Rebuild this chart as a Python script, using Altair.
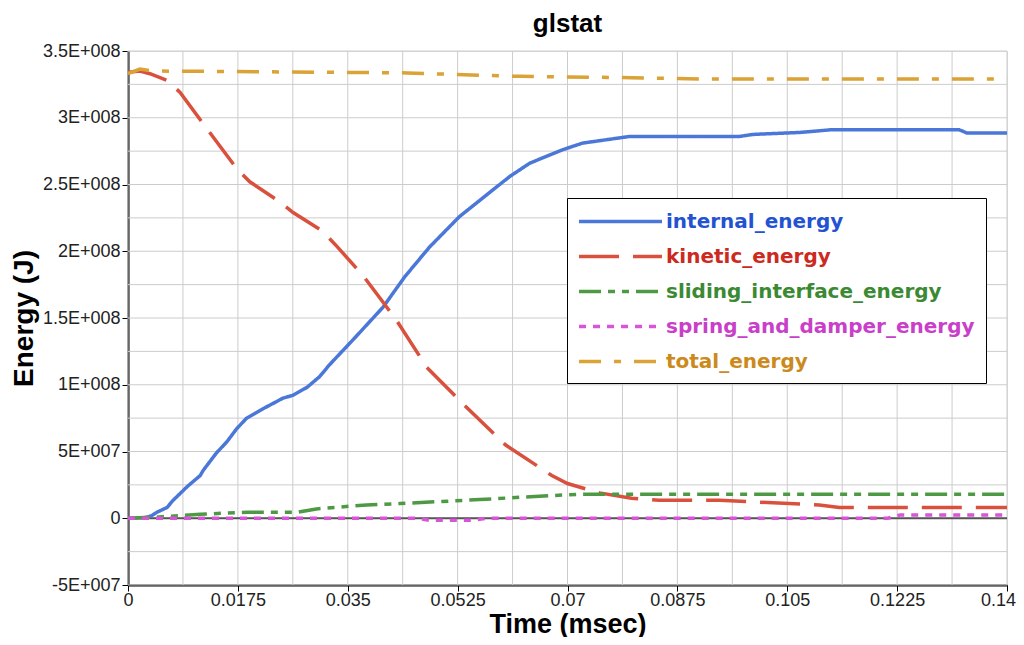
import json
import altair as alt
import pandas as pd

# ---------------- data ----------------
series_names = ["internal_energy", "kinetic_energy", "sliding_interface_energy",
                "spring_and_damper_energy", "total_energy"]
line_colors = ["#4a77d8", "#d9503c", "#4e9a44", "#d855d8", "#dba235"]
label_colors = ["#2352d2", "#cc2a1f", "#3b8a33", "#c93fc9", "#cc8a1c"]
dash_patterns = [[1, 0], [40, 14], [22, 7, 7, 7, 7, 7], [7, 7], [22, 13, 7, 13]]

internal_t = [0, 0.0028, 0.0038, 0.0046, 0.0062, 0.0072, 0.0095, 0.0115, 0.012, 0.0141,
              0.0157, 0.0173, 0.0189, 0.0215, 0.0247, 0.0262, 0.0285, 0.0305, 0.0321,
              0.0361, 0.0406, 0.0441, 0.048, 0.0528, 0.056, 0.0608, 0.064, 0.0692, 0.0724,
              0.0799, 0.0974, 0.0995, 0.107, 0.112, 0.1324, 0.1336, 0.14]
internal_e = [0, 0.005e8, 0.02e8, 0.045e8, 0.08e8, 0.135e8, 0.24e8, 0.32e8, 0.36e8, 0.49e8,
              0.57e8, 0.67e8, 0.75e8, 0.82e8, 0.90e8, 0.92e8, 0.98e8, 1.06e8, 1.15e8,
              1.35e8, 1.58e8, 1.81e8, 2.03e8, 2.26e8, 2.38e8, 2.56e8, 2.66e8, 2.76e8, 2.81e8,
              2.86e8, 2.86e8, 2.875e8, 2.89e8, 2.91e8, 2.91e8, 2.886e8, 2.886e8]

kinetic_t = [0, 0.0019, 0.0035, 0.0062, 0.0083, 0.0119, 0.0173, 0.0194, 0.0242, 0.0263,
             0.031, 0.0332, 0.0374, 0.0406, 0.0428, 0.0476, 0.0535, 0.0601, 0.0675, 0.07,
             0.0751, 0.0802, 0.0846, 0.0942, 0.1005, 0.1101, 0.1133, 0.14]
kinetic_e = [3.34e8, 3.35e8, 3.33e8, 3.28e8, 3.19e8, 2.96e8, 2.62e8, 2.52e8, 2.37e8, 2.29e8,
             2.15e8, 2.04e8, 1.82e8, 1.62e8, 1.48e8, 1.13e8, 0.85e8, 0.55e8, 0.32e8, 0.26e8,
             0.19e8, 0.15e8, 0.135e8, 0.135e8, 0.12e8, 0.10e8, 0.08e8, 0.08e8]

sliding_t = [0, 0.005, 0.0115, 0.019, 0.027, 0.03, 0.038, 0.0433, 0.056, 0.0655, 0.072, 0.14]
sliding_e = [0, 0.01e8, 0.03e8, 0.045e8, 0.045e8, 0.07e8, 0.10e8, 0.11e8, 0.14e8, 0.165e8,
             0.18e8, 0.18e8]

spring_t = [0, 0.046, 0.048, 0.055, 0.057, 0.121, 0.123, 0.14]
spring_e = [0, 0, -0.015e8, -0.015e8, 0, 0, 0.025e8, 0.025e8]

total_t = [0, 0.0019, 0.004, 0.02, 0.0445, 0.0547, 0.0624, 0.0802, 0.091, 0.14]
total_e = [3.33e8, 3.365e8, 3.35e8, 3.345e8, 3.336e8, 3.32e8, 3.31e8, 3.30e8, 3.29e8, 3.29e8]

x_tick_values = [0, 0.0175, 0.035, 0.0525, 0.07, 0.0875, 0.105, 0.1225, 0.14]
x_tick_labels = ["0", "0.0175", "0.035", "0.0525", "0.07", "0.0875", "0.105", "0.1225", "0.14"]
y_tick_values = [-5e7, 0, 5e7, 1e8, 1.5e8, 2e8, 2.5e8, 3e8, 3.5e8]
y_tick_labels = ["-5E+007", "0", "5E+007", "1E+008", "1.5E+008", "2E+008", "2.5E+008",
                 "3E+008", "3.5E+008"]
x_grid = [0, 0.00875, 0.0175, 0.02625, 0.035, 0.04375, 0.0525, 0.06125, 0.07, 0.07875,
          0.0875, 0.09625, 0.105, 0.11375, 0.1225, 0.13125, 0.14]
y_grid = [-5e7, -2.5e7, 0, 2.5e7, 5e7, 7.5e7, 1e8, 1.25e8, 1.5e8, 1.75e8, 2e8, 2.25e8,
          2.5e8, 2.75e8, 3e8, 3.25e8, 3.5e8]

# ---------------- build tables ----------------
rows = []
for name, ts, es in [(series_names[0], internal_t, internal_e),
                     (series_names[1], kinetic_t, kinetic_e),
                     (series_names[2], sliding_t, sliding_e),
                     (series_names[3], spring_t, spring_e),
                     (series_names[4], total_t, total_e)]:
    for t, e in zip(ts, es):
        rows.append({"series": name, "time": t, "energy": e})
df = pd.DataFrame(rows)

FONT = "Liberation Sans"
x_scale = alt.Scale(domain=[0, 0.14], nice=False, zero=False)
y_scale = alt.Scale(domain=[-5e7, 3.5e8], nice=False, zero=False)

x_label_expr = "%s[indexof(%s, datum.value)]" % (json.dumps(x_tick_labels), json.dumps(x_tick_values))
y_label_expr = "%s[indexof(%s, datum.value)]" % (json.dumps(y_tick_labels), json.dumps(y_tick_values))
legend_color_expr = "%s[indexof(%s, datum.label)]" % (json.dumps(label_colors), json.dumps(series_names))

xgrid = alt.Chart(pd.DataFrame({"g": x_grid})).mark_rule(color="#cccccc", strokeWidth=1).encode(
    x=alt.X("g:Q", scale=x_scale))
ygrid = alt.Chart(pd.DataFrame({"g": y_grid})).mark_rule(color="#cccccc", strokeWidth=1).encode(
    y=alt.Y("g:Q", scale=y_scale))
zero = alt.Chart(pd.DataFrame({"z": [0]})).mark_rule(color="#555555", strokeWidth=2).encode(
    y=alt.Y("z:Q", scale=y_scale))

lines = alt.Chart(df).mark_line(strokeWidth=3.5).encode(
    x=alt.X("time:Q", scale=x_scale,
            axis=alt.Axis(title="Time (msec)", values=x_tick_values, labelExpr=x_label_expr,
                          grid=False, tickSize=6, tickColor="black", domainColor="black",
                          domainWidth=2, labelFont=FONT, labelFontSize=18, labelColor="#222222",
                          labelPadding=0, titleFont=FONT, titleFontSize=27, titleFontWeight="bold",
                          titleColor="black", titlePadding=2, labelFlush=False,
                          labelOffset={"condition": {"test": "datum.value >= 0.14", "value": -9},
                                       "value": 0})),
    y=alt.Y("energy:Q", scale=y_scale,
            axis=alt.Axis(title="Energy (J)", values=y_tick_values, labelExpr=y_label_expr,
                          grid=False, tickSize=6, tickColor="black", domainColor="black",
                          domainWidth=2, labelFont=FONT, labelFontSize=18, labelColor="#222222",
                          labelPadding=2, titleFont=FONT, titleFontSize=28, titleFontWeight="bold",
                          titleColor="black", titlePadding=4)),
    color=alt.Color("series:N", scale=alt.Scale(domain=series_names, range=line_colors),
                    legend=alt.Legend(title=None, orient="none", legendX=439, legendY=147,
                                      fillColor="white", strokeColor="black", padding=11,
                                      symbolType="M-4,0L4,0", symbolSize=430,
                                      symbolStrokeWidth=3.5, symbolOffset=30, labelOffset=33,
                                      labelFont="DejaVu Sans", labelFontSize=20,
                                      labelFontWeight="bold", labelLimit=500, rowPadding=12,
                                      labelColor=alt.ExprRef(expr=legend_color_expr))),
    strokeDash=alt.StrokeDash("series:N", scale=alt.Scale(domain=series_names, range=dash_patterns),
                              legend=None),
)

chart = alt.layer(xgrid, ygrid, zero, lines).properties(
    width=879, height=534,
    title=alt.TitleParams("glstat", font=FONT, fontSize=26, fontWeight="bold", color="black",
                          anchor="middle", offset=5),
    autosize=alt.AutoSizeParams(type="none"),
    padding={"left": 120, "top": 43, "right": 9, "bottom": 52},
).configure_view(stroke="#444444", strokeWidth=1.5).configure(background="white")

chart.save("out.html", embed_options={"renderer": "svg", "actions": False})
